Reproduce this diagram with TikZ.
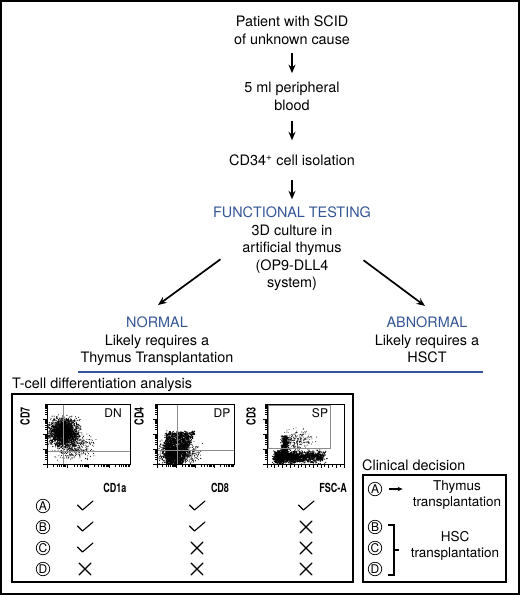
\documentclass[tikz,border=0pt]{standalone}
\usepackage{fontspec}
\setmainfont{TeX Gyre Heros}
\usetikzlibrary{arrows.meta}
\definecolor{tblue}{RGB}{52,86,150}
\begin{document}
\begin{tikzpicture}[x=1pt,y=-1pt,
 main/.style={font=\fontsize{14.4}{17.5}\selectfont, align=center, inner sep=0pt},
 cmain/.style={font=\fontsize{13.5}{16.5}\selectfont, align=center, inner sep=0pt},
 head/.style={main, text=tblue},
 arr/.style={-{Stealth[length=8.5pt,width=7pt]}, line width=1.7pt},
 smallarr/.style={-{Stealth[length=5pt,width=4.5pt]}, line width=1.1pt},
 axlbl/.style={font=\fontsize{12.5}{12.5}\selectfont\bfseries, inner sep=0pt},
 tag/.style={font=\fontsize{12}{12}\selectfont, inner sep=0pt},
 circ/.style={circle, draw, line width=0.7pt, inner sep=0pt, minimum size=13.5pt, font=\fontsize{12}{12}\selectfont},
 panel/.style={draw, line width=1.3pt},
 plotbox/.style={draw, line width=1pt},
 gridln/.style={draw=black!45, line width=0.7pt},
 tick/.style={line width=0.6pt},
 chkmark/.pic={\draw[line width=1.1pt, line cap=round, line join=round] (-7.5,-1) -- (-2.5,4) -- (8,-5);},
 crossmark/.pic={\draw[line width=1.1pt, line cap=round] (-6,-6) -- (6,6) (-6,6) -- (6,-6);},
]
\useasboundingbox (0,0) rectangle (520,595);
\draw[line width=2pt] (1.2,1.2) rectangle (518.8,593.8);

% flow chart
\node[main] (patient) at (292,30) {Patient with SCID\\of unknown cause};
\node[main] (blood) at (292,96.5) {5 ml peripheral\\blood};
\node[main] (cd34) at (292,160) {CD34\textsuperscript{+} cell isolation};
\node[head] (func) at (292,212) {FUNCTIONAL TESTING};
\node[main, anchor=north] (culture) at (292,224.5) {3D culture in\\artificial thymus\\(OP9-DLL4\\system)};
\node[main, anchor=north] (normal) at (157,317) {\textcolor{tblue}{NORMAL}\\Likely requires a\\Thymus Transplantation};
\node[main, anchor=north] (abnormal) at (427,317) {\textcolor{tblue}{ABNORMAL}\\Likely requires a\\HSCT};

\draw[arr, shorten <=9pt, shorten >=9pt] (patient) -- (blood);
\draw[arr, shorten <=10pt, shorten >=14pt] (blood) -- (cd34);
\draw[arr, shorten <=14pt, shorten >=7pt] (cd34) -- (func);
\draw[arr] ([shift={(-21.7,1.5)}]culture.west) -- ([shift={(1,-12)}]normal.north);
\draw[arr] ([shift={(21.7,2.5)}]culture.east) -- ([shift={(-2,-11)}]abnormal.north);

\draw[tblue, line width=1.3pt] (78,372) -- (483,372);

% T-cell panel
\node[main, anchor=west] (tcell) at (12,385) {T-cell differentiation analysis};
\draw[panel] (12,394) rectangle (353,582);

\pgfmathsetseed{11}
% plot 1 DN
\begin{scope}
\clip (47,404) rectangle (130,464);
\foreach \i in {1,...,1900}{
  \pgfmathsetmacro\ux{63+7*(rand+rand+rand)}
  \pgfmathsetmacro\uy{432+6.5*(rand+rand+rand)}
  \fill (\ux,\uy) circle[radius=0.6];
}
\foreach \i in {1,...,500}{
  \pgfmathsetmacro\ux{73+9*(rand+rand+rand)}
  \pgfmathsetmacro\uy{446+6*(rand+rand+rand)}
  \fill (\ux,\uy) circle[radius=0.5];
}
\end{scope}
\draw[gridln] (63,404) -- (63,464) (47,451) -- (130,451);
\draw[plotbox] (47,404) rectangle (130,464);

% plot 2 DP
\begin{scope}
\clip (157,404) rectangle (234,464);
\foreach \i in {1,...,1900}{
  \pgfmathsetmacro\v{rnd}
  \pgfmathsetmacro\ux{166+(29-14*\v)*rnd+0.7*(rand+rand+rand)}
  \pgfmathsetmacro\uy{432+34*\v+0.7*(rand+rand+rand)}
  \fill (\ux,\uy) circle[radius=0.6];
}
\foreach \i in {1,...,600}{
  \pgfmathsetmacro\ux{169+4*(rand+rand+rand)}
  \pgfmathsetmacro\uy{452+6*(rand+rand+rand)}
  \fill (\ux,\uy) circle[radius=0.6];
}
\foreach \i in {1,...,300}{
  \pgfmathsetmacro\ux{187+6*(rand+rand+rand)}
  \pgfmathsetmacro\uy{453+5*(rand+rand+rand)}
  \fill (\ux,\uy) circle[radius=0.5];
}
\end{scope}
\draw[gridln] (177,404) -- (177,464) (157,450) -- (234,450);
\draw[plotbox] (157,404) rectangle (234,464);

% plot 3 SP
\begin{scope}
\clip (267,404) rectangle (344,464);
\foreach \i in {1,...,1800}{
  \pgfmathsetmacro\w{rnd}
  \pgfmathsetmacro\ux{278+46*\w*\w+2.5*(rand+rand+rand)}
  \pgfmathsetmacro\uy{457+2.8*(rand+rand+rand)}
  \fill (\ux,\uy) circle[radius=0.6];
}
\foreach \i in {1,...,400}{
  \pgfmathsetmacro\ux{285+1.6*(rand+rand+rand)}
  \pgfmathsetmacro\uy{436+18*rnd}
  \fill (\ux,\uy) circle[radius=0.6];
}
\foreach \i in {1,...,260}{
  \pgfmathsetmacro\ux{297+7*(rand+rand+rand)}
  \pgfmathsetmacro\uy{441+5*(rand+rand+rand)}
  \fill (\ux,\uy) circle[radius=0.45];
}
\end{scope}
\draw[gridln] (268,405) rectangle (330,448);
\draw[plotbox] (267,404) rectangle (344,464);

% ticks
\foreach \L/\R in {47/130, 157/234, 267/344}{
  \foreach \d in {0,...,3}{
    \foreach \k in {1,...,9}{
      \pgfmathsetmacro\t{464-15*(\d+log10(\k))}
      \pgfmathsetmacro\len{ifthenelse(\k==1,4,2.5)}
      \draw[tick] (\L,\t) -- ({\L-\len},\t);
    }
  }
}
\foreach \L/\R in {47/130, 157/234}{
  \foreach \d in {0,...,3}{
    \foreach \k in {1,...,9}{
      \pgfmathsetmacro\t{\L+(\R-\L)/4*(\d+log10(\k))}
      \pgfmathsetmacro\len{ifthenelse(\k==1,4,2.5)}
      \draw[tick] (\t,464) -- (\t,{464+\len});
    }
  }
}
\foreach \j in {0,...,20}{
  \pgfmathsetmacro\t{267+77/20*\j}
  \pgfmathsetmacro\len{ifthenelse(mod(\j,2)==0,4,2.5)}
  \draw[tick] (\t,464) -- (\t,{464+\len});
}

% axis labels and tags
\node[axlbl, rotate=90] (ycd7) at (25,416) {\scalebox{0.72}[1]{CD7}};
\node[axlbl, rotate=90] (ycd4) at (139,416) {\scalebox{0.72}[1]{CD4}};
\node[axlbl, rotate=90] (ycd3) at (251,416) {\scalebox{0.72}[1]{CD3}};
\node[axlbl] (xcd1a) at (115,488) {\scalebox{0.72}[1]{CD1a}};
\node[axlbl] (xcd8) at (220,488) {\scalebox{0.72}[1]{CD8}};
\node[axlbl] (xfsc) at (333,488) {\scalebox{0.72}[1]{FSC-A}};
\node[tag] (tdn) at (113,413) {DN};
\node[tag] (tdp) at (222,413) {DP};
\node[tag] (tsp) at (320,413) {SP};

% table
\node[circ] (la) at (43,506) {A};
\node[circ] (lb) at (43,527) {B};
\node[circ] (lc) at (43,548) {C};
\node[circ] (ld) at (43,569) {D};
\pic at (85,506) {chkmark};
\pic at (197,506) {chkmark};
\pic at (306,506) {chkmark};
\pic at (85,527) {chkmark};
\pic at (197,527) {chkmark};
\pic at (306,527) {crossmark};
\pic at (85,548) {chkmark};
\pic at (197,548) {crossmark};
\pic at (306,548) {crossmark};
\pic at (85,569) {crossmark};
\pic at (197,569) {crossmark};
\pic at (306,569) {crossmark};

% clinical decision
\node[main, anchor=west] (clin) at (362,465) {Clinical decision};
\draw[panel] (363,475) rectangle (506,582);
\node[circ] (ca) at (375,489) {A};
\node[circ] (cb) at (375,527) {B};
\node[circ] (cc) at (375,548) {C};
\node[circ] (cd) at (375,569) {D};
\node[cmain] (thy) at (457,495) {Thymus\\transplantation};
\node[cmain] (hsc) at (455,546) {HSC\\transplantation};
\draw[smallarr, shorten <=7pt, shorten >=10pt] (ca.east) -- (ca.east -| thy.west);
\draw[line width=1.1pt] (388,525) -- (394,525) -- (394,575) -- (388,575) (394,550) -- (399,550);
\end{tikzpicture}
\end{document}
